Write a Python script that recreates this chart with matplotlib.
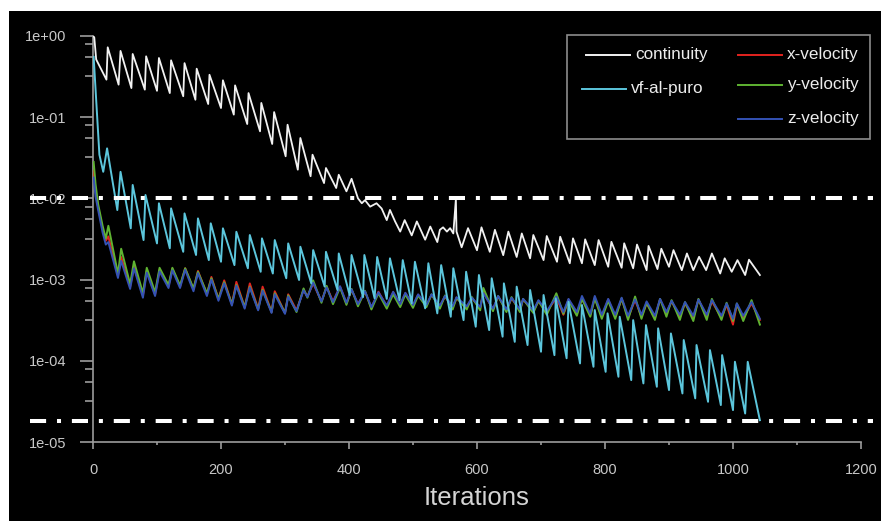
import matplotlib
matplotlib.use("Agg")
import matplotlib.pyplot as plt
from matplotlib import ticker
from matplotlib.lines import Line2D
from matplotlib.patches import Rectangle

plt.rcParams["font.family"] = ["Liberation Sans", "DejaVu Sans"]

# residual histories: (iteration, residual) at peaks / troughs
cont_it = [0, 2, 5, 21, 23, 40, 43, 60, 62, 81,
           83, 100, 103, 120, 122, 141, 143, 160, 162, 180,
           182, 200, 203, 220, 222, 241, 243, 261, 263, 280,
           283, 301, 304, 320, 324, 340, 343, 361, 364, 380,
           384, 396, 404, 414, 420, 425, 433, 443, 451, 459,
           464, 472, 480, 487, 498, 506, 519, 527, 538, 542,
           547, 553, 558, 563, 567, 568, 576, 586, 600, 607,
           620, 628, 641, 649, 662, 670, 683, 688, 704, 709,
           725, 730, 745, 750, 764, 769, 784, 790, 805, 810,
           826, 830, 844, 850, 865, 868, 882, 888, 900, 907,
           920, 928, 938, 947, 958, 967, 980, 987, 998, 1007,
           1019, 1025, 1042]
cont_res = [1.0, 0.95, 0.51, 0.288, 0.72, 0.25, 0.65, 0.227, 0.596, 0.217,
            0.558, 0.21, 0.532, 0.197, 0.498, 0.18, 0.46, 0.163, 0.393, 0.1445,
            0.331, 0.129, 0.283, 0.107, 0.245, 0.082, 0.197, 0.0667, 0.149, 0.0466,
            0.115, 0.0329, 0.0804, 0.0225, 0.0552, 0.0187, 0.0344, 0.0154, 0.0236, 0.0134,
            0.0195, 0.0122, 0.0174, 0.0100, 0.0087, 0.0095, 0.0079, 0.0087, 0.0075, 0.0054,
            0.0072, 0.0052, 0.0039, 0.0054, 0.0035, 0.0052, 0.0031, 0.0045, 0.0029, 0.0041,
            0.0044, 0.0039, 0.0043, 0.0037, 0.0098, 0.0039, 0.0025, 0.0043, 0.0023, 0.0044,
            0.0022, 0.0041, 0.0020, 0.0039, 0.0019, 0.0037, 0.00183, 0.00354, 0.00174, 0.00344,
            0.00166, 0.00337, 0.00159, 0.00322, 0.00159, 0.00313, 0.00151, 0.00307, 0.00144, 0.00292,
            0.0014, 0.0028, 0.00138, 0.0027, 0.00131, 0.0026, 0.00135, 0.0024, 0.00144, 0.00231,
            0.00131, 0.0021, 0.00131, 0.00191, 0.00131, 0.0021, 0.00119, 0.00183, 0.00125, 0.00174,
            0.00114, 0.00176, 0.00114]

vf_it = [1, 10, 16, 22, 38, 43, 59, 62, 79, 82,
         100, 103, 120, 122, 141, 143, 161, 164, 181, 184,
         200, 203, 221, 224, 242, 245, 262, 264, 281, 284,
         302, 305, 322, 324, 341, 344, 362, 364, 382, 384,
         401, 404, 422, 424, 440, 444, 459, 464, 479, 484,
         498, 503, 519, 524, 538, 544, 559, 563, 579, 583,
         598, 603, 619, 623, 640, 642, 659, 662, 679, 683,
         700, 704, 721, 723, 740, 743, 761, 764, 782, 784,
         801, 804, 821, 823, 841, 844, 860, 864, 881, 883,
         900, 903, 921, 923, 941, 943, 961, 964, 981, 983,
         1000, 1003, 1019, 1023, 1042]
vf_res = [0.55, 0.0344, 0.0212, 0.0412, 0.00718, 0.0212, 0.00428, 0.0146, 0.00307, 0.011,
          0.00279, 0.0087, 0.00243, 0.00753, 0.0022, 0.00653, 0.00201, 0.00567, 0.00174, 0.00493,
          0.00166, 0.00428, 0.00151, 0.00388, 0.00138, 0.00354, 0.00125, 0.00322, 0.00119, 0.00307,
          0.00104, 0.00279, 0.00099, 0.00254, 0.0009, 0.00231, 0.00082, 0.0022, 0.000745, 0.0021,
          0.000647, 0.00201, 0.00061, 0.00201, 0.00059, 0.0019, 0.00058, 0.00183, 0.00056, 0.00174,
          0.000511, 0.00166, 0.000444, 0.00159, 0.000385, 0.00151, 0.00035, 0.00138, 0.000318, 0.00125,
          0.000264, 0.00114, 0.00024, 0.00104, 0.000199, 0.0009, 0.000172, 0.00082, 0.000157, 0.000745,
          0.00013, 0.000647, 0.000118, 0.000589, 0.000108, 0.000535, 0.0000934, 0.000488, 0.0000849, 0.000423,
          0.0000736, 0.000385, 0.000064, 0.00035, 0.0000582, 0.000318, 0.000053, 0.000276, 0.0000482, 0.000252,
          0.0000439, 0.000218, 0.0000399, 0.000181, 0.0000347, 0.000157, 0.0000315, 0.000136, 0.0000287, 0.000118,
          0.0000249, 0.0000978, 0.0000226, 0.0000978, 0.0000187]

vel_it = [1, 4, 8, 15, 20, 24,
          39, 44, 58, 64, 78, 84, 97, 104,
          118, 124, 136, 144, 157, 164, 178, 185,
          196, 205, 217, 224, 237, 245, 258, 265,
          279, 284, 300, 305, 318, 329, 335, 344,
          357, 365, 375, 386, 396, 404, 414, 425,
          435, 446, 459, 469, 480, 488, 500, 508,
          521, 529, 542, 550, 562, 568, 584, 592,
          605, 610, 625, 633, 646, 654, 667, 672,
          688, 696, 709, 724, 735, 743, 756, 764,
          777, 784, 795, 805, 816, 826, 836, 847,
          857, 865, 878, 886, 896, 904, 917, 925,
          938, 946, 959, 967, 982, 990, 1000, 1006,
          1016, 1029, 1042]
xvel_res = [0.022, 0.012, 0.0078, 0.0042, 0.0030, 0.0034,
            0.00112, 0.0019, 0.00082, 0.00145, 0.00064, 0.00128, 0.00066, 0.00132,
            0.00083, 0.00136, 0.00082, 0.00138, 0.00076, 0.00128, 0.00066, 0.00108,
            0.00058, 0.00098, 0.0005, 0.00094, 0.00046, 0.0009, 0.00044, 0.00082,
            0.0004, 0.00072, 0.00039, 0.00066, 0.00042, 0.00075, 0.00062, 0.0009,
            0.00054, 0.00082, 0.00054, 0.00082, 0.00051, 0.00075, 0.0005, 0.00071,
            0.00045, 0.00071, 0.00047, 0.0007, 0.00049, 0.00068, 0.00048, 0.00065,
            0.00048, 0.00065, 0.00047, 0.00062, 0.00046, 0.00059, 0.00046, 0.00059,
            0.00045, 0.0007, 0.00043, 0.00062, 0.00042, 0.00059, 0.00042, 0.00057,
            0.00041, 0.00054, 0.0004, 0.0006, 0.00037, 0.00057, 0.00039, 0.00058,
            0.00037, 0.0006, 0.00035, 0.00057, 0.00035, 0.00058, 0.00034, 0.00056,
            0.00035, 0.00051, 0.00034, 0.00057, 0.00039, 0.00054, 0.00035, 0.00051,
            0.00034, 0.00057, 0.00035, 0.00054, 0.00034, 0.00049, 0.00028, 0.00049,
            0.00034, 0.00051, 0.00032]
yvel_res = [0.028, 0.015, 0.0085, 0.0046, 0.0032, 0.0046,
            0.00118, 0.0024, 0.00088, 0.00168, 0.00068, 0.0014, 0.0007, 0.0014,
            0.00086, 0.0014, 0.00085, 0.00138, 0.00078, 0.00125, 0.00068, 0.00104,
            0.00058, 0.00093, 0.0005, 0.00086, 0.00046, 0.00082, 0.00043, 0.00075,
            0.0004, 0.00068, 0.00039, 0.00064, 0.0004, 0.00078, 0.0006, 0.00098,
            0.00052, 0.00084, 0.0005, 0.0008, 0.00049, 0.00077, 0.00047, 0.00073,
            0.00043, 0.00068, 0.00044, 0.00066, 0.00046, 0.00066, 0.00045, 0.00064,
            0.00046, 0.00066, 0.00044, 0.00064, 0.00043, 0.0006, 0.00043, 0.00061,
            0.00042, 0.00079, 0.00041, 0.00063, 0.0004, 0.00061, 0.0004, 0.00058,
            0.00039, 0.00055, 0.00037, 0.00068, 0.00038, 0.00056, 0.00036, 0.00058,
            0.00035, 0.00059, 0.00033, 0.00055, 0.00033, 0.00059, 0.00032, 0.00062,
            0.00033, 0.00052, 0.00032, 0.00058, 0.00035, 0.00056, 0.00032, 0.00053,
            0.00031, 0.00058, 0.00032, 0.00058, 0.00032, 0.00052, 0.00031, 0.00051,
            0.00031, 0.00056, 0.00028]
zvel_res = [0.018, 0.0105, 0.0072, 0.0038, 0.0027, 0.0029,
            0.00105, 0.0017, 0.00077, 0.00138, 0.0006, 0.00122, 0.00063, 0.00126,
            0.00079, 0.0013, 0.00079, 0.00132, 0.00072, 0.0012, 0.00063, 0.001,
            0.00055, 0.0009, 0.00048, 0.00084, 0.00044, 0.0008, 0.00042, 0.00073,
            0.00039, 0.00066, 0.00038, 0.00062, 0.00041, 0.00074, 0.00061, 0.00092,
            0.00054, 0.0008, 0.00053, 0.00083, 0.00052, 0.00076, 0.0005, 0.00072,
            0.00046, 0.0007, 0.00048, 0.00071, 0.0005, 0.00069, 0.00049, 0.00066,
            0.00049, 0.00066, 0.00048, 0.00063, 0.00047, 0.00061, 0.00047, 0.0006,
            0.00046, 0.00068, 0.00044, 0.00063, 0.00043, 0.0006, 0.00043, 0.00058,
            0.00042, 0.00056, 0.00041, 0.00062, 0.0004, 0.00058, 0.0004, 0.00063,
            0.00038, 0.00063, 0.00037, 0.00058, 0.00037, 0.0006, 0.00036, 0.00057,
            0.00037, 0.00054, 0.00036, 0.00058, 0.0004, 0.00055, 0.00037, 0.00053,
            0.00036, 0.00057, 0.00037, 0.00056, 0.00036, 0.00051, 0.00033, 0.00051,
            0.00036, 0.00053, 0.00033]

# convergence criteria drawn as dash-dot lines
thresholds = [1e-2, 1.85e-5]

colors = {"continuity": "#f2f2f2", "x-velocity": "#e3231f", "y-velocity": "#5fb332",
          "z-velocity": "#3452b4", "vf-al-puro": "#5cc6dc"}

W, H = 881, 521
def fx(px):
    return px / W
def fy(py):
    return 1 - py / H

fig = plt.figure(figsize=(W / 100, H / 100), dpi=100, facecolor="white")
fig.add_artist(Rectangle((fx(9), 0), 1, fy(11), facecolor="black", edgecolor="none", zorder=-5))

ax = fig.add_axes([fx(93), fy(442.3), (861 - 93) / W, (442.3 - 35.7) / H])
ax.set_facecolor("none")

ax.plot(cont_it, cont_res, color=colors["continuity"], lw=1.3, zorder=3)
ax.plot(vel_it, xvel_res, color=colors["x-velocity"], lw=1.4, zorder=3)
ax.plot(vel_it, yvel_res, color=colors["y-velocity"], lw=1.4, zorder=3)
ax.plot(vel_it, zvel_res, color=colors["z-velocity"], lw=1.4, zorder=3)
ax.plot(vf_it, vf_res, color=colors["vf-al-puro"], lw=1.4, zorder=4)

for thr in thresholds:
    ax.axhline(thr, xmin=-0.082, xmax=1.0156, color="white", lw=2.9,
               dashes=(4, 2.7, 1, 2.7), clip_on=False, zorder=6)

ax.set_yscale("log")
ax.set_xlim(0, 1200)
ax.set_ylim(1e-5, 1)

for s in ("top", "right"):
    ax.spines[s].set_visible(False)
for s in ("left", "bottom"):
    ax.spines[s].set_color("#9c9c9c")
    ax.spines[s].set_linewidth(1.2)

ax.xaxis.set_major_locator(ticker.MultipleLocator(200))
ax.xaxis.set_minor_locator(ticker.MultipleLocator(100))
ax.yaxis.set_major_locator(ticker.LogLocator(base=10, numticks=10))
ax.yaxis.set_minor_locator(ticker.LogLocator(base=10, subs=(3.2, 5.5, 7.9), numticks=10))
ax.yaxis.set_major_formatter(ticker.FuncFormatter(lambda v, p: f"{v:.0e}"))
ax.yaxis.set_minor_formatter(ticker.NullFormatter())

tick_kw = dict(color="#9c9c9c", labelcolor="#c8c8c8", width=1.2)
ax.tick_params(axis="y", which="major", length=9.5, pad=10, labelsize=10.5, **tick_kw)
ax.tick_params(axis="y", which="minor", length=5.5, **tick_kw)
ax.tick_params(axis="x", which="major", length=5, pad=10, labelsize=10.5, **tick_kw)
ax.tick_params(axis="x", which="minor", length=2.5, **tick_kw)

ax.set_xlabel("Iterations", fontsize=18.5, color="#d4d4d4")
ax.xaxis.set_label_coords(0.5, -0.154)
ax.xaxis.label.set_verticalalignment("baseline")

# legend box, laid out like the solver's two-column legend
fig.add_artist(Rectangle((fx(567), fy(139)), (870 - 567) / W, (139 - 34.7) / H,
                         facecolor="black", edgecolor="#8c8c8c", lw=1.2, zorder=8))
legend_layout = [("continuity", 586, 55), ("vf-al-puro", 582, 89),
                 ("x-velocity", 738, 55), ("y-velocity", 738, 85), ("z-velocity", 738, 119)]
for name, x0, y0 in legend_layout:
    fig.add_artist(Line2D([fx(x0), fx(x0 + 44)], [fy(y0), fy(y0)], color=colors[name],
                          lw=1.4, zorder=9))
    fig.text(fx(x0 + 49), fy(y0), name, color="#ececec", fontsize=12.3,
             va="center", ha="left", zorder=9)

fig.savefig("out.png", dpi=100, facecolor=fig.get_facecolor())
